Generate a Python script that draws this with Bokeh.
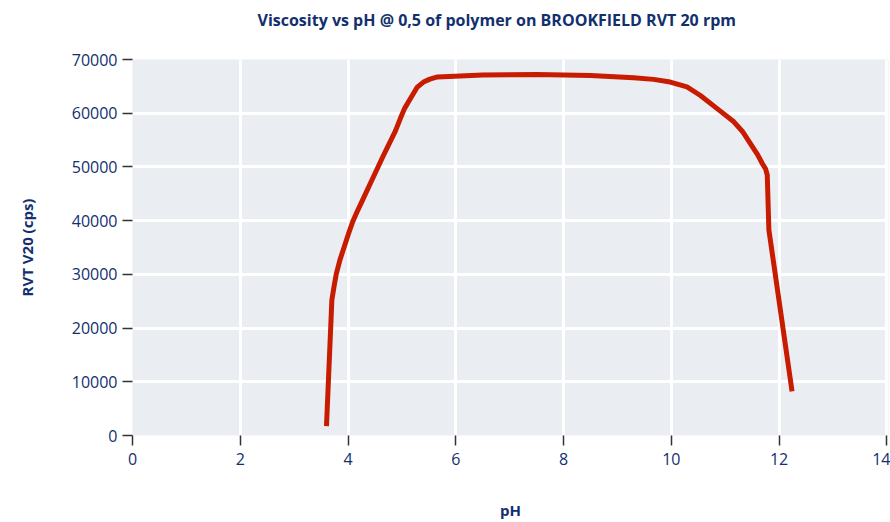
from bokeh.plotting import figure
from bokeh.models import Range1d, FixedTicker, Title
from bokeh.embed import file_html
from bokeh.resources import INLINE

# Data
ph = [3.60, 3.70, 3.74, 3.78, 3.85, 3.93, 4.01, 4.09, 4.17, 4.25, 4.45, 4.65,
      4.88, 4.97, 5.05, 5.15, 5.28, 5.40, 5.52, 5.66, 6.5, 7.5, 8.5,
      9.3, 9.67, 9.98, 10.29, 10.54, 10.85, 11.16, 11.32, 11.47, 11.60, 11.69,
      11.75, 11.78, 11.81, 12.24]
viscosity = [1750, 25250, 27700, 30000, 32700, 35150, 37600, 39900, 41700,
             43400, 47700, 52000, 56700, 59000, 60900, 62600, 64800, 65800,
             66350, 66750, 67100, 67200, 67000, 66600, 66300, 65800,
             64900, 63300, 60850, 58400, 56600, 54300, 52300, 50600, 49600,
             48500, 38300, 8200]
x_ticks = [0, 2, 4, 6, 8, 10, 12, 14]
y_ticks = [0, 10000, 20000, 30000, 40000, 50000, 60000, 70000]

title_text = "Viscosity vs pH @ 0,5 of polymer on BROOKFIELD RVT 20 rpm"
x_label = "pH"
y_label = "RVT V20 (cps)"

NAVY = "#12306e"
FONT = "Open Sans"

p = figure(width=890, height=522, output_backend="svg", toolbar_location=None,
           x_range=Range1d(0, 14.03), y_range=Range1d(0, 70000),
           min_border_left=132, min_border_right=2, min_border_top=59,
           min_border_bottom=86)

p.title.text = title_text
p.title.align = "left"
p.title.offset = 125
p.title.text_font = FONT
p.title.text_font_size = "16px"
p.title.text_font_style = "bold"
p.title.text_color = NAVY
p.title.standoff = 0

# spacer between the title and the plot frame
p.add_layout(Title(text=" ", text_font_size="1px", standoff=26), "above")

p.background_fill_color = "#eaedf2"
p.border_fill_color = "white"
p.outline_line_color = None

p.xgrid.grid_line_color = "white"
p.ygrid.grid_line_color = "white"
p.xgrid.grid_line_width = 3
p.ygrid.grid_line_width = 3

for ax in (p.xaxis[0], p.yaxis[0]):
    ax.axis_line_color = None
    ax.major_tick_line_color = "#333333"
    ax.major_tick_line_width = 1.5
    ax.major_tick_out = 10
    ax.major_tick_in = 0
    ax.minor_tick_line_color = None
    ax.major_label_text_font = FONT
    ax.major_label_text_font_size = "16px"
    ax.major_label_text_color = NAVY
    ax.axis_label_text_font = FONT
    ax.axis_label_text_font_size = "15px"
    ax.axis_label_text_font_style = "bold"
    ax.axis_label_text_color = NAVY

p.xaxis.ticker = FixedTicker(ticks=x_ticks)
p.yaxis.ticker = FixedTicker(ticks=y_ticks)
p.xaxis.major_label_standoff = 7
p.yaxis.major_label_standoff = 5

p.xaxis.axis_label = x_label
p.xaxis.axis_label_standoff = 32
p.yaxis.axis_label = y_label
p.yaxis.axis_label_standoff = 32

p.line(ph, viscosity, line_color="#c81c00", line_width=5, line_join="round",
       line_cap="butt")

open("out.html", "w").write(file_html(p, INLINE))
